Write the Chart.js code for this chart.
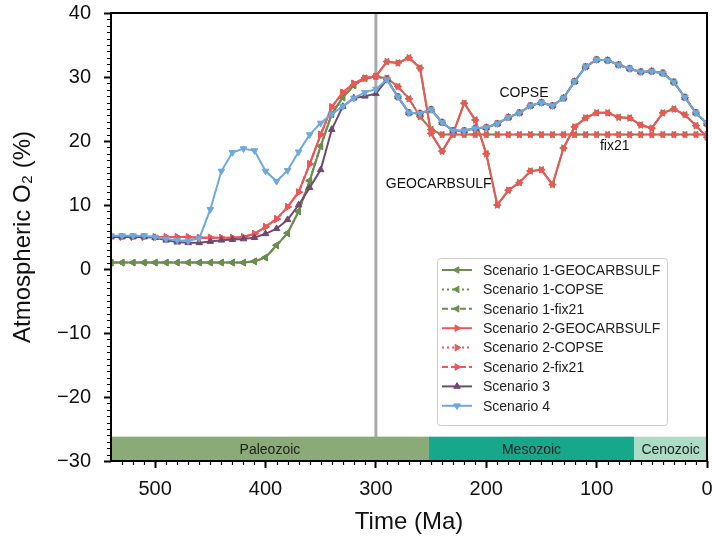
<!DOCTYPE html>
<html lang="en">
<head>
    <meta charset="UTF-8">
    <title>Atmospheric O2 scenarios</title>
    <script src="https://cdn.jsdelivr.net/npm/chart.js"></script>
    <style>
        body {
            margin: 0;
            background: #fff;
        }
        canvas {
            display: block;
        }
    </style>
</head>
<body>
    <canvas id="grafico" width="712" height="543"></canvas>

    <script>
        // time axis, 540 Ma to present in 10 Ma steps
        const times = [540, 530, 520, 510, 500, 490, 480, 470, 460, 450, 440, 430, 420, 410, 400,
            390, 380, 370, 360, 350, 340, 330, 320, 310, 300, 290, 280, 270, 260, 250, 240, 230,
            220, 210, 200, 190, 180, 170, 160, 150, 140, 130, 120, 110, 100, 90, 80, 70, 60, 50,
            40, 30, 20, 10, 0];

        // 540 - 300 Ma, one array per scenario
        const s1Early = [1, 1, 1, 1, 1, 1, 1, 1, 1, 1, 1, 1, 1, 1.2, 1.8, 3.7, 5.6, 9.0, 13.8, 19.2, 24.2, 26.8, 28.7, 29.8, 30.1];
        const s2Early = [5.0, 5.0, 5.0, 5.0, 5.0, 5.0, 5.0, 5.0, 4.9, 4.9, 4.9, 4.9, 5.0, 5.5, 6.6, 7.8, 9.7, 12.0, 16.4, 21.0, 25.3, 27.6, 29.0, 29.8, 30.1];
        const s3Early = [5.0, 5.0, 5.0, 5.0, 4.9, 4.5, 4.2, 4.1, 4.1, 4.3, 4.5, 4.6, 4.7, 4.9, 5.5, 6.3, 7.7, 10.0, 12.7, 15.5, 21.8, 25.4, 26.7, 27.0, 27.4];
        const s4Early = [5.2, 5.2, 5.2, 5.2, 5.0, 4.7, 4.5, 4.4, 4.8, 9.3, 15.3, 18.2, 18.8, 18.5, 15.3, 13.7, 15.4, 18.3, 21.0, 22.8, 24.2, 25.4, 26.7, 27.6, 28.1];

        // 290 - 0 Ma, one array per forcing
        const geocarbLate = [32.4, 32.2, 33.0, 31.4, 21.2, 18.4, 21.2, 25.9, 23.3, 18.0, 10.0, 12.3, 13.5, 15.3, 15.5, 13.2, 18.9, 22.2, 23.6, 24.4, 24.4, 23.7, 23.6, 22.5, 22.0, 24.4, 25.0, 24.1, 22.4, 20.6];
        const copseLate = [29.6, 26.9, 24.4, 24.3, 24.9, 22.9, 21.6, 21.6, 22.0, 22.1, 22.7, 23.7, 24.4, 25.5, 26.0, 25.5, 26.7, 29.3, 31.6, 32.7, 32.6, 31.9, 31.3, 30.8, 30.9, 30.6, 29.2, 26.8, 24.4, 22.7];
        const fix21Late = [29.8, 28.5, 26.6, 23.8, 21.8, 21, 21, 21, 21, 21, 21, 21, 21, 21, 21, 21, 21, 21, 21, 21, 21, 21, 21, 21, 21, 21, 21, 21, 21, 21];

        // geological eras shown along the bottom
        const eraNames = ['Paleozoic', 'Mesozoic', 'Cenozoic'];
        const eraStart = [540, 252, 66];
        const eraEnd = [252, 66, 0];
        const eraColors = ['#8aab78', '#17a88b', '#aadcc6'];

        const curveLabels = ['COPSE', 'GEOCARBSULF', 'fix21'];
        const curveLabelAt = [[188, 27.5], [291, 13.2], [97, 19.2]];

        const FONT = "'Liberation Sans', Arial, sans-serif";
        const VERDE = '#6b8e4e', VERMELHO = '#f05656', ROXO = '#6e4b6e', AZUL = '#6ea8dc';

        const series = [
            { label: 'Scenario 1-GEOCARBSULF', early: s1Early, late: geocarbLate, color: VERDE, dash: [], rot: 270 },
            { label: 'Scenario 1-COPSE', early: s1Early, late: copseLate, color: VERDE, dash: [2, 3], rot: 270 },
            { label: 'Scenario 1-fix21', early: s1Early, late: fix21Late, color: VERDE, dash: [6, 3], rot: 270 },
            { label: 'Scenario 2-GEOCARBSULF', early: s2Early, late: geocarbLate, color: VERMELHO, dash: [], rot: 90 },
            { label: 'Scenario 2-COPSE', early: s2Early, late: copseLate, color: VERMELHO, dash: [2, 3], rot: 90 },
            { label: 'Scenario 2-fix21', early: s2Early, late: fix21Late, color: VERMELHO, dash: [6, 3], rot: 90 },
            { label: 'Scenario 3', early: s3Early, late: copseLate, color: ROXO, dash: [], rot: 0 },
            { label: 'Scenario 4', early: s4Early, late: copseLate, color: AZUL, dash: [], rot: 180 }
        ];

        const datasets = series.map((s, idx) => ({
            label: s.label,
            data: s.early.concat(s.late).map((v, i) => ({ x: times[i], y: v })),
            borderColor: s.color,
            backgroundColor: s.color,
            borderWidth: 2,
            borderDash: s.dash,
            pointStyle: 'triangle',
            pointRotation: s.rot,
            pointRadius: 3.8,
            pointBorderWidth: 1,
            pointBackgroundColor: s.color,
            pointBorderColor: s.color,
            tension: 0,
            fill: false,
            order: series.length - idx   // later series drawn on top
        }));

        function triangulo(ctx, x, y, r, rot) {
            const a = rot * Math.PI / 180;
            ctx.beginPath();
            for (let k = 0; k < 3; k++) {
                const ang = a + k * 2 * Math.PI / 3;
                const px = x + Math.sin(ang) * r, py = y - Math.cos(ang) * r;
                if (k === 0) ctx.moveTo(px, py); else ctx.lineTo(px, py);
            }
            ctx.closePath();
            ctx.fill();
            ctx.stroke();
        }

        // era band, 300 Ma marker line, minor ticks, curve labels, frame and legend
        const decoracao = {
            id: 'decoracao',
            beforeDatasetsDraw(chart) {
                const { ctx, chartArea: a, scales: { x, y } } = chart;
                ctx.save();
                ctx.strokeStyle = '#aaaaaa';
                ctx.lineWidth = 3;
                ctx.beginPath();
                ctx.moveTo(x.getPixelForValue(300), a.top);
                ctx.lineTo(x.getPixelForValue(300), a.bottom);
                ctx.stroke();

                const bandTop = y.getPixelForValue(-26.2);
                eraNames.forEach((nome, i) => {
                    const x0 = x.getPixelForValue(eraStart[i]);
                    const x1 = x.getPixelForValue(eraEnd[i]);
                    ctx.fillStyle = eraColors[i];
                    ctx.fillRect(x0, bandTop, x1 - x0, a.bottom - bandTop);
                    ctx.fillStyle = '#222';
                    ctx.font = '14px ' + FONT;
                    ctx.textAlign = 'center';
                    ctx.textBaseline = 'middle';
                    ctx.fillText(nome, (x0 + x1) / 2, (bandTop + a.bottom) / 2 + 1);
                });
                ctx.restore();
            },
            afterDatasetsDraw(chart) {
                const { ctx, chartArea: a, scales: { x, y } } = chart;
                ctx.save();
                ctx.fillStyle = '#111';
                ctx.font = '14px ' + FONT;
                ctx.textAlign = 'left';
                ctx.textBaseline = 'middle';
                curveLabels.forEach((t, i) => {
                    ctx.fillText(t, x.getPixelForValue(curveLabelAt[i][0]), y.getPixelForValue(curveLabelAt[i][1]));
                });

                // minor ticks
                ctx.strokeStyle = '#000';
                ctx.lineWidth = 1.2;
                ctx.beginPath();
                for (let v = -30; v <= 40; v++) {
                    if (v % 10 === 0) continue;
                    const py = Math.round(y.getPixelForValue(v)) + 0.5;
                    ctx.moveTo(a.left - 4, py);
                    ctx.lineTo(a.left, py);
                }
                for (let t = 10; t < 540; t += 10) {
                    if (t % 100 === 0) continue;
                    const px = Math.round(x.getPixelForValue(t)) + 0.5;
                    ctx.moveTo(px, a.bottom);
                    ctx.lineTo(px, a.bottom + 4);
                }
                ctx.stroke();

                // frame
                ctx.lineWidth = 2;
                ctx.strokeRect(a.left, a.top, a.right - a.left, a.bottom - a.top);
                ctx.restore();
            },
            afterDraw(chart) {
                const { ctx } = chart;
                const bx = 437, by = 258, bw = 230, bh = 167;
                ctx.save();
                ctx.fillStyle = 'rgba(255,255,255,0.85)';
                ctx.strokeStyle = '#cccccc';
                ctx.lineWidth = 1;
                ctx.beginPath();
                ctx.roundRect(bx + 0.5, by + 0.5, bw, bh, 3);
                ctx.fill();
                ctx.stroke();

                ctx.font = '14px ' + FONT;
                ctx.textAlign = 'left';
                ctx.textBaseline = 'middle';
                series.forEach((s, i) => {
                    const ly = by + 12 + i * 19.4;
                    ctx.strokeStyle = s.color;
                    ctx.fillStyle = s.color;
                    ctx.lineWidth = 2;
                    ctx.setLineDash(s.dash);
                    ctx.beginPath();
                    ctx.moveTo(442, ly);
                    ctx.lineTo(472, ly);
                    ctx.stroke();
                    ctx.setLineDash([]);
                    ctx.lineWidth = 1;
                    triangulo(ctx, 457, ly, 3.8, s.rot);
                    ctx.fillStyle = '#222';
                    ctx.fillText(s.label, 483, ly + 1);
                });
                ctx.restore();
            }
        };

        const ctx = document.getElementById('grafico').getContext('2d');
        new Chart(ctx, {
            type: 'line',
            data: { datasets },
            options: {
                responsive: false,
                animation: false,
                devicePixelRatio: 1,
                layout: { padding: { top: 13, right: 5, left: 0, bottom: 0 } },
                plugins: {
                    legend: { display: false },
                    tooltip: { enabled: false }
                },
                scales: {
                    x: {
                        type: 'linear',
                        reverse: true,
                        min: 0,
                        max: 540,
                        border: { display: false },
                        grid: { drawOnChartArea: false, drawTicks: true, tickLength: 7, tickWidth: 2, tickColor: '#000' },
                        ticks: {
                            stepSize: 100,
                            includeBounds: false,
                            maxRotation: 0,
                            padding: 9,
                            color: '#111',
                            font: { family: FONT, size: 20 }
                        },
                        title: {
                            display: true,
                            text: 'Time (Ma)',
                            color: '#111',
                            font: { family: FONT, size: 24 },
                            padding: { top: 0, bottom: 6 }
                        },
                        afterFit(scale) {
                            scale.height = 82;
                            scale.paddingLeft = 0;
                            scale.paddingRight = 0;
                        }
                    },
                    y: {
                        min: -30,
                        max: 40,
                        border: { display: false },
                        grid: { drawOnChartArea: false, drawTicks: true, tickLength: 7, tickWidth: 2, tickColor: '#000' },
                        ticks: {
                            stepSize: 10,
                            padding: 13,
                            color: '#111',
                            font: { family: FONT, size: 20 },
                            callback: v => String(v).replace('-', '\u2212')
                        },
                        title: {
                            display: true,
                            text: 'Atmospheric O₂ (%)',
                            color: '#111',
                            font: { family: FONT, size: 24 },
                            padding: { top: 9, bottom: 0 }
                        },
                        afterFit(scale) {
                            scale.width = 111;
                            scale.paddingTop = 0;
                            scale.paddingBottom = 0;
                        }
                    }
                }
            },
            plugins: [decoracao]
        });
    </script>
</body>
</html>
